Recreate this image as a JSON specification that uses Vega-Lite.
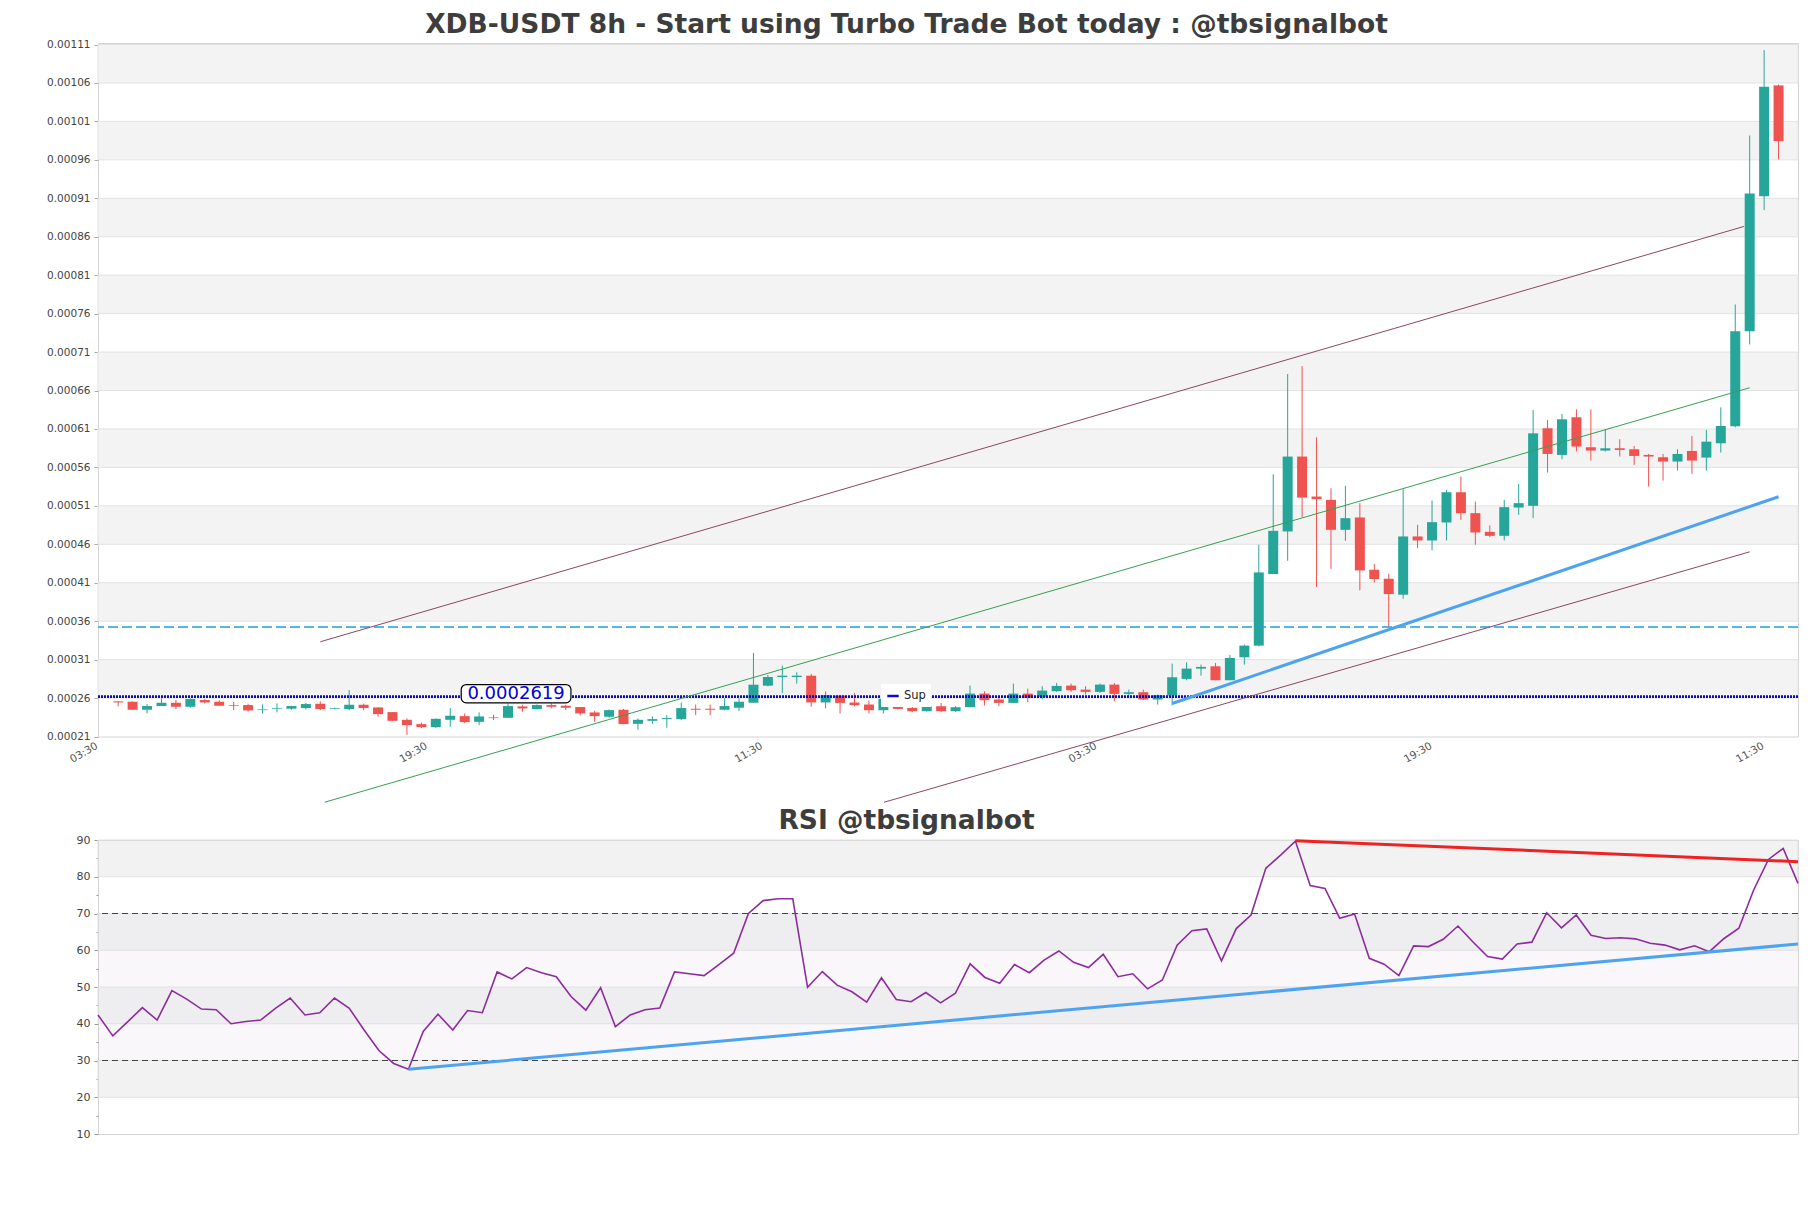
{
  "$schema": "https://vega.github.io/schema/vega-lite/v6.json",
  "background": "white",
  "padding": {"left": 5, "top": 11, "right": 5, "bottom": 5},
  "bounds": "flush",
  "spacing": 103,
  "resolve": {"scale": {"color": "independent", "stroke": "independent", "x": "independent", "y": "independent"}},
  "config": {"view": {"stroke": "#d4d4d4"}, "font": "DejaVu Sans"},
  "datasets": {
    "candles": [
      {"i":0,"o":25.57,"h":25.57,"l":24.91,"c":25.43},
      {"i":1,"o":25.52,"h":25.55,"l":24.45,"c":24.48},
      {"i":2,"o":24.48,"h":25.22,"l":24.0,"c":24.96},
      {"i":3,"o":24.96,"h":25.96,"l":24.96,"c":25.39},
      {"i":4,"o":25.39,"h":25.74,"l":24.57,"c":24.87},
      {"i":5,"o":24.87,"h":25.96,"l":24.74,"c":25.87},
      {"i":6,"o":25.74,"h":25.87,"l":25.3,"c":25.43},
      {"i":7,"o":25.52,"h":25.74,"l":25.0,"c":25.0},
      {"i":8,"o":25.09,"h":25.52,"l":24.43,"c":25.0},
      {"i":9,"o":25.09,"h":25.26,"l":24.22,"c":24.39},
      {"i":10,"o":24.43,"h":25.17,"l":24.0,"c":24.52},
      {"i":11,"o":24.61,"h":25.3,"l":24.13,"c":24.7},
      {"i":12,"o":24.61,"h":25.0,"l":24.48,"c":24.96},
      {"i":13,"o":24.7,"h":25.35,"l":24.52,"c":25.22},
      {"i":14,"o":25.26,"h":25.57,"l":24.43,"c":24.57},
      {"i":15,"o":24.61,"h":24.74,"l":24.52,"c":24.7},
      {"i":16,"o":24.57,"h":27.04,"l":24.43,"c":25.13},
      {"i":17,"o":25.13,"h":25.26,"l":24.43,"c":24.7},
      {"i":18,"o":24.78,"h":24.78,"l":23.57,"c":23.91},
      {"i":19,"o":24.17,"h":24.17,"l":23.04,"c":23.04},
      {"i":20,"o":23.17,"h":23.35,"l":21.22,"c":22.48},
      {"i":21,"o":22.61,"h":22.83,"l":22.09,"c":22.22},
      {"i":22,"o":22.22,"h":23.35,"l":22.09,"c":23.3},
      {"i":23,"o":23.17,"h":24.7,"l":22.26,"c":23.7},
      {"i":24,"o":23.65,"h":24.0,"l":22.74,"c":22.87},
      {"i":25,"o":22.91,"h":24.13,"l":22.48,"c":23.61},
      {"i":26,"o":23.48,"h":23.83,"l":23.13,"c":23.39},
      {"i":27,"o":23.43,"h":25.3,"l":23.43,"c":24.96},
      {"i":28,"o":24.91,"h":25.13,"l":24.22,"c":24.65},
      {"i":29,"o":24.57,"h":25.17,"l":24.52,"c":25.09},
      {"i":30,"o":25.09,"h":25.3,"l":24.65,"c":24.87},
      {"i":31,"o":25.0,"h":25.13,"l":24.43,"c":24.74},
      {"i":32,"o":24.83,"h":24.83,"l":23.78,"c":24.0},
      {"i":33,"o":24.13,"h":24.35,"l":22.91,"c":23.65},
      {"i":34,"o":23.57,"h":24.52,"l":23.43,"c":24.43},
      {"i":35,"o":24.48,"h":24.57,"l":22.61,"c":22.61},
      {"i":36,"o":22.65,"h":23.35,"l":21.87,"c":23.17},
      {"i":37,"o":23.04,"h":23.61,"l":22.65,"c":23.26},
      {"i":38,"o":23.26,"h":23.78,"l":22.13,"c":23.39},
      {"i":39,"o":23.26,"h":25.43,"l":23.13,"c":24.7},
      {"i":40,"o":24.61,"h":25.17,"l":23.78,"c":24.48},
      {"i":41,"o":24.61,"h":25.17,"l":23.78,"c":24.48},
      {"i":42,"o":24.48,"h":25.96,"l":24.39,"c":24.96},
      {"i":43,"o":24.74,"h":25.96,"l":24.3,"c":25.52},
      {"i":44,"o":25.39,"h":31.87,"l":25.39,"c":27.74},
      {"i":45,"o":27.61,"h":29.0,"l":27.52,"c":28.74},
      {"i":46,"o":28.74,"h":30.22,"l":26.65,"c":28.91},
      {"i":47,"o":28.74,"h":29.35,"l":27.87,"c":28.91},
      {"i":48,"o":28.91,"h":29.13,"l":24.87,"c":25.43},
      {"i":49,"o":25.43,"h":26.87,"l":24.65,"c":26.39},
      {"i":50,"o":26.32,"h":26.32,"l":23.99,"c":25.37},
      {"i":51,"o":25.42,"h":26.67,"l":24.94,"c":25.07},
      {"i":52,"o":25.16,"h":25.68,"l":23.99,"c":24.42},
      {"i":53,"o":24.42,"h":25.9,"l":24.0,"c":25.9},
      {"i":54,"o":24.94,"h":25.03,"l":24.51,"c":24.59},
      {"i":55,"o":24.72,"h":24.94,"l":24.16,"c":24.29},
      {"i":56,"o":24.29,"h":24.94,"l":24.25,"c":24.94},
      {"i":57,"o":24.94,"h":25.37,"l":24.16,"c":24.29},
      {"i":58,"o":24.29,"h":24.94,"l":24.2,"c":24.81},
      {"i":59,"o":24.81,"h":27.62,"l":24.81,"c":26.58},
      {"i":60,"o":26.58,"h":26.89,"l":25.03,"c":25.72},
      {"i":61,"o":25.81,"h":26.15,"l":24.94,"c":25.37},
      {"i":62,"o":25.37,"h":27.88,"l":25.37,"c":26.58},
      {"i":63,"o":26.58,"h":27.23,"l":25.46,"c":26.02},
      {"i":64,"o":26.15,"h":27.54,"l":25.81,"c":26.97},
      {"i":65,"o":26.89,"h":27.97,"l":26.8,"c":27.58},
      {"i":66,"o":27.62,"h":27.88,"l":26.8,"c":27.02},
      {"i":67,"o":27.1,"h":27.54,"l":26.45,"c":26.8},
      {"i":68,"o":26.8,"h":27.88,"l":26.67,"c":27.75},
      {"i":69,"o":27.75,"h":27.97,"l":25.59,"c":26.54},
      {"i":70,"o":26.54,"h":27.1,"l":26.24,"c":26.76},
      {"i":71,"o":26.76,"h":27.1,"l":25.72,"c":25.81},
      {"i":72,"o":25.81,"h":26.45,"l":25.16,"c":26.37},
      {"i":73,"o":26.32,"h":30.48,"l":25.03,"c":28.71},
      {"i":74,"o":28.49,"h":30.65,"l":28.32,"c":29.83},
      {"i":75,"o":29.83,"h":30.35,"l":28.92,"c":30.05},
      {"i":76,"o":30.13,"h":30.57,"l":28.32,"c":28.32},
      {"i":77,"o":28.32,"h":31.61,"l":28.32,"c":31.22},
      {"i":78,"o":31.3,"h":32.95,"l":30.35,"c":32.82},
      {"i":79,"o":32.82,"h":45.94,"l":32.73,"c":42.34},
      {"i":80,"o":42.13,"h":55.11,"l":42.13,"c":47.75},
      {"i":81,"o":47.67,"h":68.14,"l":43.86,"c":57.41},
      {"i":82,"o":57.41,"h":69.18,"l":49.53,"c":52.08},
      {"i":83,"o":52.21,"h":59.92,"l":40.44,"c":51.87},
      {"i":84,"o":51.78,"h":53.29,"l":42.82,"c":47.88},
      {"i":85,"o":47.88,"h":53.6,"l":46.45,"c":49.4},
      {"i":86,"o":49.49,"h":51.35,"l":40.0,"c":42.6},
      {"i":87,"o":42.69,"h":43.47,"l":41.04,"c":41.48},
      {"i":88,"o":41.52,"h":42.17,"l":35.24,"c":39.53},
      {"i":89,"o":39.44,"h":53.16,"l":38.92,"c":47.02},
      {"i":90,"o":47.02,"h":48.53,"l":45.5,"c":46.5},
      {"i":91,"o":46.5,"h":51.69,"l":45.2,"c":48.88},
      {"i":92,"o":48.84,"h":53.08,"l":46.5,"c":52.77},
      {"i":93,"o":52.77,"h":54.81,"l":49.18,"c":50.05},
      {"i":94,"o":50.05,"h":51.56,"l":45.94,"c":47.54},
      {"i":95,"o":47.62,"h":48.45,"l":46.93,"c":47.1},
      {"i":96,"o":47.1,"h":51.78,"l":46.5,"c":50.83},
      {"i":97,"o":50.78,"h":53.86,"l":49.83,"c":51.35},
      {"i":98,"o":51.0,"h":63.47,"l":49.4,"c":60.43},
      {"i":99,"o":61.09,"h":62.17,"l":55.33,"c":57.75},
      {"i":100,"o":57.62,"h":62.95,"l":57.06,"c":62.26},
      {"i":101,"o":62.52,"h":63.55,"l":58.06,"c":58.71},
      {"i":102,"o":58.62,"h":63.55,"l":56.89,"c":58.19},
      {"i":103,"o":58.19,"h":60.96,"l":58.06,"c":58.49},
      {"i":104,"o":58.49,"h":59.66,"l":57.41,"c":58.27},
      {"i":105,"o":58.36,"h":58.79,"l":56.32,"c":57.49},
      {"i":106,"o":57.62,"h":57.75,"l":53.51,"c":57.41},
      {"i":107,"o":57.32,"h":57.75,"l":54.29,"c":56.76},
      {"i":108,"o":56.76,"h":58.36,"l":55.59,"c":57.75},
      {"i":109,"o":58.14,"h":60.09,"l":55.16,"c":56.89},
      {"i":110,"o":57.28,"h":60.87,"l":55.59,"c":59.35},
      {"i":111,"o":59.14,"h":63.81,"l":57.93,"c":61.39},
      {"i":112,"o":61.36,"h":77.19,"l":61.2,"c":73.72},
      {"i":113,"o":73.72,"h":99.17,"l":71.99,"c":91.63},
      {"i":114,"o":91.28,"h":110.27,"l":89.46,"c":105.5},
      {"i":115,"o":105.68,"h":105.81,"l":96.05,"c":98.43}
    ],
    "rsi": [
      {"k":0,"r":42.4},{"k":1,"r":36.7},{"k":2,"r":40.5},{"k":3,"r":44.4},{"k":4,"r":41.0},
      {"k":5,"r":49.0},{"k":6,"r":46.7},{"k":7,"r":44.0},{"k":8,"r":43.8},{"k":9,"r":40.0},
      {"k":10,"r":40.6},{"k":11,"r":41.0},{"k":12,"r":44.2},{"k":13,"r":47.0},{"k":14,"r":42.4},
      {"k":15,"r":43.0},{"k":16,"r":47.0},{"k":17,"r":44.2},{"k":18,"r":38.3},{"k":19,"r":32.7},
      {"k":20,"r":29.2},{"k":21,"r":27.6},{"k":22,"r":37.9},{"k":23,"r":42.6},{"k":24,"r":38.3},
      {"k":25,"r":43.6},{"k":26,"r":43.0},{"k":27,"r":54.1},{"k":28,"r":52.2},{"k":29,"r":55.3},
      {"k":30,"r":53.9},{"k":31,"r":52.8},{"k":32,"r":47.4},{"k":33,"r":43.7},{"k":34,"r":49.8},
      {"k":35,"r":39.2},{"k":36,"r":42.4},{"k":37,"r":43.8},{"k":38,"r":44.3},{"k":39,"r":54.1},
      {"k":40,"r":53.6},{"k":41,"r":53.1},{"k":42,"r":56.1},{"k":43,"r":59.2},{"k":44,"r":70.0},
      {"k":45,"r":73.5},{"k":46,"r":74.0},{"k":47,"r":74.0},{"k":48,"r":49.9},{"k":49,"r":54.2},
      {"k":50,"r":50.5},{"k":51,"r":48.7},{"k":52,"r":45.9},{"k":53,"r":52.5},{"k":54,"r":46.6},
      {"k":55,"r":46.0},{"k":56,"r":48.5},{"k":57,"r":45.7},{"k":58,"r":48.3},{"k":59,"r":56.3},
      {"k":60,"r":52.6},{"k":61,"r":51.0},{"k":62,"r":56.1},{"k":63,"r":53.9},{"k":64,"r":57.3},
      {"k":65,"r":59.8},{"k":66,"r":56.7},{"k":67,"r":55.3},{"k":68,"r":58.9},{"k":69,"r":52.8},
      {"k":70,"r":53.6},{"k":71,"r":49.5},{"k":72,"r":51.9},{"k":73,"r":61.4},{"k":74,"r":65.3},
      {"k":75,"r":65.8},{"k":76,"r":57.1},{"k":77,"r":65.9},{"k":78,"r":69.6},{"k":79,"r":82.3},
      {"k":80,"r":85.9},{"k":81,"r":89.7},{"k":82,"r":77.6},{"k":83,"r":76.8},{"k":84,"r":68.7},
      {"k":85,"r":69.9},{"k":86,"r":57.8},{"k":87,"r":56.2},{"k":88,"r":53.1},{"k":89,"r":61.2},
      {"k":90,"r":61.0},{"k":91,"r":63.0},{"k":92,"r":66.6},{"k":93,"r":62.3},{"k":94,"r":58.3},
      {"k":95,"r":57.6},{"k":96,"r":61.7},{"k":97,"r":62.2},{"k":98,"r":70.2},{"k":99,"r":66.1},
      {"k":100,"r":69.6},{"k":101,"r":64.1},{"k":102,"r":63.2},{"k":103,"r":63.4},{"k":104,"r":63.1},
      {"k":105,"r":61.9},{"k":106,"r":61.4},{"k":107,"r":60.1},{"k":108,"r":61.2},{"k":109,"r":59.6},
      {"k":110,"r":63.2},{"k":111,"r":66.0},{"k":112,"r":76.4},{"k":113,"r":84.7},{"k":114,"r":87.7},
      {"k":115,"r":78.2}
    ],
    "trend": [
      {"line":"upper","i":14.0,"v":33.32},{"line":"upper","i":112.6,"v":87.34},
      {"line":"lower","i":53.05,"v":12.45},{"line":"lower","i":113.0,"v":45.02},
      {"line":"mid","i":14.3,"v":12.45},{"line":"mid","i":113.0,"v":66.36},
      {"line":"support","i":73.0,"v":25.29},{"line":"support","i":115.0,"v":52.18}
    ],
    "bands": [
      {"y1":26,"y2":31},{"y1":36,"y2":41},{"y1":46,"y2":51},{"y1":56,"y2":61},{"y1":66,"y2":71},
      {"y1":76,"y2":81},{"y1":86,"y2":91},{"y1":96,"y2":101},{"y1":106,"y2":111}
    ],
    "levels": [
      {"name":"Sup","v":26.19},
      {"name":"Res","v":35.24}
    ],
    "tag": [
      {"x1":23.76,"x2":31.36,"y1":25.38,"y2":27.76,"tx":27.56,"ty":26.57,"text":"0.0002619"}
    ],
    "rsiBands": [
      {"y1":80,"y2":90},{"y1":60,"y2":70},{"y1":40,"y2":50},{"y1":20,"y2":30}
    ],
    "rsiTrend": [
      {"line":"sup","k":21,"r":27.6},{"line":"sup","k":115,"r":61.7},
      {"line":"res","k":81,"r":89.8},{"line":"res","k":115,"r":84.1}
    ]
  },
  "vconcat": [
    {
      "width": 1700,
      "height": 693.5,
      "title": {"text": "XDB-USDT 8h - Start using Turbo Trade Bot today : @tbsignalbot", "fontSize": 26.5, "font": "DejaVu Sans", "fontWeight": "bold", "color": "#3d3d3d", "anchor": "middle", "dx": -41.5, "offset": -20, "baseline": "alphabetic"},
      "layer": [
        {
          "data": {"name": "bands"},
          "transform": [{"calculate": "datum.y1 * 1e-5", "as": "b1"}, {"calculate": "datum.y2 * 1e-5", "as": "b2"}],
          "mark": {"type": "rect", "fill": "#f3f3f3", "stroke": "#e2e2e2", "strokeWidth": 1},
          "encoding": {
            "y": {"field": "b1", "type": "quantitative", "scale": {"domain": [0.00021, 0.001112], "nice": false, "zero": false},
              "axis": {"values": [0.00021,0.00026,0.00031,0.00036,0.00041,0.00046,0.00051,0.00056,0.00061,0.00066,0.00071,0.00076,0.00081,0.00086,0.00091,0.00096,0.00101,0.00106,0.00111], "tickCount": 200, "format": ".5f", "labelOverlap": false, "title": null, "grid": false, "domain": false, "tickSize": 4, "tickColor": "#aaaaaa", "labelFontSize": 10.5, "labelColor": "#444444", "labelPadding": 4, "minExtent": 92}},
            "y2": {"field": "b2"}
          }
        },
        {
          "data": {"name": "candles"},
          "transform": [
            {"calculate": "datum.o * 1e-5", "as": "open"},
            {"calculate": "datum.h * 1e-5", "as": "high"},
            {"calculate": "datum.l * 1e-5", "as": "low"},
            {"calculate": "datum.c * 1e-5", "as": "close"}
          ],
          "layer": [
            {
              "mark": {"type": "rule", "strokeWidth": 1},
              "encoding": {
                "x": {"field": "i", "type": "quantitative", "scale": {"domain": [-1.05, 116.0], "nice": false, "zero": false},
                  "axis": {"values": [-1.04, 21.78, 45.0, 68.14, 91.36, 114.36], "tickCount": 200, "labelExpr": "['03:30','19:30','11:30'][round((datum.value + 1) / 23) % 3]", "labelOverlap": false, "labelAngle": -30, "labelAlign": "right", "labelBaseline": "top", "labelOffset": -9, "ticks": false, "domain": false, "grid": false, "title": null, "labelFontSize": 10.5, "labelColor": "#555555", "labelPadding": 4}},
                "y": {"field": "low", "type": "quantitative"},
                "y2": {"field": "high"},
                "color": {"condition": {"test": "datum.c >= datum.o", "value": "#26a69a"}, "value": "#ef5350"}
              }
            },
            {
              "mark": {"type": "bar", "size": 10},
              "encoding": {
                "x": {"field": "i", "type": "quantitative"},
                "y": {"field": "open", "type": "quantitative"},
                "y2": {"field": "close"},
                "color": {"condition": {"test": "datum.c >= datum.o", "value": "#26a69a"}, "value": "#ef5350"}
              }
            }
          ]
        },
        {
          "data": {"name": "levels"},
          "transform": [{"filter": "datum.name === 'Res'"}, {"calculate": "datum.v * 1e-5", "as": "val"}],
          "mark": {"type": "rule", "color": "#22a0d6", "strokeWidth": 1.3, "strokeDash": [10, 4]},
          "encoding": {"y": {"field": "val", "type": "quantitative"}}
        },
        {
          "data": {"name": "levels"},
          "transform": [{"filter": "datum.name === 'Sup'"}, {"calculate": "datum.v * 1e-5", "as": "val"}],
          "mark": {"type": "rule", "strokeWidth": 2.8, "strokeDash": [2, 1]},
          "encoding": {
            "y": {"field": "val", "type": "quantitative"},
            "stroke": {"field": "name", "type": "nominal", "scale": {"domain": ["Sup"], "range": ["#0a0acc"]},
              "legend": {"orient": "none", "legendX": 783, "legendY": 641, "title": null, "fillColor": "white", "padding": 5, "symbolType": "stroke", "symbolStrokeWidth": 2.5, "symbolSize": 130, "symbolDash": [], "labelFontSize": 11.5, "labelColor": "#222222", "labelFont": "DejaVu Sans"}}
          }
        },
        {
          "data": {"name": "trend"},
          "transform": [{"calculate": "datum.v * 1e-5", "as": "val"}],
          "mark": {"type": "line", "clip": false},
          "encoding": {
            "x": {"field": "i", "type": "quantitative"},
            "y": {"field": "val", "type": "quantitative"},
            "detail": {"field": "line"},
            "color": {"field": "line", "type": "nominal", "scale": {"domain": ["upper", "lower", "mid", "support"], "range": ["#8c4566", "#8c4566", "#35a050", "#4da3f0"]}, "legend": null},
            "strokeWidth": {"condition": {"test": "datum.line === 'support'", "value": 3}, "value": 1}
          }
        },
        {
          "data": {"name": "tag"},
          "transform": [{"calculate": "datum.y1 * 1e-5", "as": "r1"}, {"calculate": "datum.y2 * 1e-5", "as": "r2"}, {"calculate": "datum.ty * 1e-5", "as": "tyv"}],
          "layer": [
            {
              "mark": {"type": "rect", "fill": "white", "stroke": "black", "strokeWidth": 1.2, "cornerRadius": 5},
              "encoding": {
                "x": {"field": "x1", "type": "quantitative"},
                "x2": {"field": "x2"},
                "y": {"field": "r1", "type": "quantitative"},
                "y2": {"field": "r2"}
              }
            },
            {
              "mark": {"type": "text", "fontSize": 18, "color": "#0000dd", "align": "center", "baseline": "middle", "font": "DejaVu Sans"},
              "encoding": {
                "x": {"field": "tx", "type": "quantitative"},
                "y": {"field": "tyv", "type": "quantitative"},
                "text": {"field": "text"}
              }
            }
          ]
        }
      ]
    },
    {
      "width": 1700,
      "height": 294,
      "title": {"text": "RSI @tbsignalbot", "fontSize": 26.5, "font": "DejaVu Sans", "fontWeight": "bold", "color": "#3d3d3d", "anchor": "middle", "dx": -41.5, "offset": -21, "baseline": "alphabetic"},
      "layer": [
        {
          "data": {"values": [{"y1": 30, "y2": 70}]},
          "mark": {"type": "rect", "fill": "#a070b0", "fillOpacity": 0.06},
          "encoding": {
            "y": {"field": "y1", "type": "quantitative", "scale": {"domain": [10, 90], "nice": false, "zero": false},
              "axis": {"values": [10,15,20,25,30,35,40,45,50,55,60,65,70,75,80,85,90], "tickCount": 200, "format": "d", "labelExpr": "datum.value % 10 === 0 ? datum.label : ''", "labelOverlap": false, "title": null, "grid": false, "domain": false, "tickColor": "#999999", "tickSize": {"condition": {"test": "datum.value % 10 === 0", "value": 4}, "value": 2}, "labelFontSize": 11, "labelColor": "#444444", "labelPadding": 4, "minExtent": 92}},
            "y2": {"field": "y2"}
          }
        },
        {
          "data": {"name": "rsiBands"},
          "mark": {"type": "rect", "fill": "#dcdce0", "fillOpacity": 0.38, "stroke": "#e0e0e0", "strokeWidth": 1},
          "encoding": {
            "y": {"field": "y1", "type": "quantitative"},
            "y2": {"field": "y2"}
          }
        },
        {
          "data": {"values": [{"lvl": 70}, {"lvl": 30}]},
          "mark": {"type": "rule", "color": "#444444", "strokeWidth": 1.2, "strokeDash": [6, 4]},
          "encoding": {"y": {"field": "lvl", "type": "quantitative"}}
        },
        {
          "data": {"name": "rsi"},
          "mark": {"type": "line", "color": "#8e2b9e", "strokeWidth": 1.6},
          "encoding": {
            "x": {"field": "k", "type": "quantitative", "scale": {"domain": [0, 115], "nice": false, "zero": false}, "axis": null},
            "y": {"field": "r", "type": "quantitative"}
          }
        },
        {
          "data": {"name": "rsiTrend"},
          "mark": {"type": "line", "strokeWidth": 3, "clip": false},
          "encoding": {
            "x": {"field": "k", "type": "quantitative"},
            "y": {"field": "r", "type": "quantitative"},
            "detail": {"field": "line"},
            "color": {"field": "line", "type": "nominal", "scale": {"domain": ["sup", "res"], "range": ["#4da3f0", "#ee2222"]}, "legend": null}
          }
        }
      ]
    }
  ]
}
